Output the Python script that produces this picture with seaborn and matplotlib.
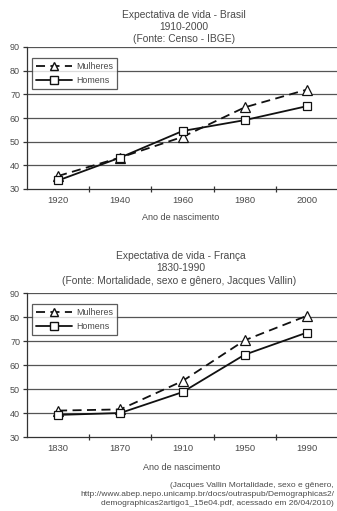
import matplotlib
matplotlib.use("Agg")
import matplotlib.pyplot as plt
from matplotlib.lines import Line2D
from matplotlib.ticker import FixedLocator
import seaborn as sns
import pandas as pd

# Life expectancy by year of birth
brasil_anos = ["1920", "1940", "1960", "1980", "2000"]
brasil_mulheres = [35.5, 43.3, 52.0, 64.5, 72.0]
brasil_homens = [33.6, 43.3, 54.5, 59.1, 65.0]

franca_anos = ["1830", "1870", "1910", "1950", "1990"]
franca_mulheres = [41.0, 41.5, 53.3, 70.3, 80.5]
franca_homens = [39.2, 40.0, 48.7, 64.3, 73.5]

y_ticks = [30, 40, 50, 60, 70, 80, 90]

sns.set_theme(style="white")
plt.rcParams["font.family"] = ["Liberation Sans", "DejaVu Sans"]

TXT = "#4a4a4a"
LN = "#111111"

W, H = 337, 511
fig = plt.figure(figsize=(W / 100, H / 100), dpi=100)
fig.patch.set_facecolor("white")


def px_axes(left, top, right, bottom):
    return fig.add_axes([left / W, 1 - bottom / H, (right - left) / W, (bottom - top) / H])


def draw_panel(ax, anos, mulheres, homens):
    df = pd.DataFrame({
        "x": list(range(len(anos))) * 2,
        "y": mulheres + homens,
        "sexo": ["Mulheres"] * len(anos) + ["Homens"] * len(anos),
    })
    sns.lineplot(data=df[df.sexo == "Mulheres"], x="x", y="y", ax=ax, color=LN,
                 linestyle=(0, (5, 3)), linewidth=1.3, marker="^", markersize=7,
                 markerfacecolor="white", markeredgecolor=LN, markeredgewidth=0.9,
                 legend=False, zorder=4)
    sns.lineplot(data=df[df.sexo == "Homens"], x="x", y="y", ax=ax, color=LN,
                 linestyle="-", linewidth=1.3, marker="s", markersize=6.3,
                 markerfacecolor="white", markeredgecolor=LN, markeredgewidth=0.9,
                 legend=False, zorder=5)
    ax.set_xlim(-0.5, len(anos) - 0.5)
    ax.set_ylim(30, 90)
    ax.set_yticks(y_ticks)
    ax.set_xticks(range(len(anos)))
    ax.set_xticklabels(anos)
    ax.xaxis.set_minor_locator(FixedLocator([i + 0.5 for i in range(len(anos))]))
    ax.tick_params(axis="x", which="major", length=0, labelsize=6.8, labelcolor=TXT, pad=5)
    ax.tick_params(axis="x", which="minor", length=4, width=0.9, direction="inout",
                   color="#333333", bottom=True)
    ax.tick_params(axis="y", which="major", length=3, width=0.9, direction="out",
                   color="#333333", labelsize=6.5, labelcolor=TXT, pad=2, left=True)
    for v in y_ticks[1:]:
        ax.axhline(v, color="#555555", linewidth=0.9, zorder=1)
    for s in ["right", "top"]:
        ax.spines[s].set_visible(False)
    for s in ["left", "bottom"]:
        ax.spines[s].set_color("#333333")
        ax.spines[s].set_linewidth(0.9)
    ax.set_xlabel("")
    ax.set_ylabel("")
    handles = [
        Line2D([], [], color=LN, linestyle=(0, (5, 3)), linewidth=1.3, marker="^",
               markersize=6, markerfacecolor="white", markeredgecolor=LN),
        Line2D([], [], color=LN, linestyle="-", linewidth=1.3, marker="s",
               markersize=5.5, markerfacecolor="white", markeredgecolor=LN),
    ]
    leg = ax.legend(handles, ["Mulheres", "Homens"], loc="upper left",
                    bbox_to_anchor=(0.016, 0.925), fontsize=6.4, frameon=True,
                    fancybox=False, handlelength=4.0, handletextpad=0.5,
                    borderpad=0.45, labelspacing=0.6, borderaxespad=0)
    leg.get_frame().set_edgecolor("#333333")
    leg.get_frame().set_linewidth(0.9)
    for t in leg.get_texts():
        t.set_color(TXT)
    leg.set_zorder(6)


ax1 = px_axes(27, 47, 338, 189)
draw_panel(ax1, brasil_anos, brasil_mulheres, brasil_homens)
ax2 = px_axes(27, 293, 338, 437)
draw_panel(ax2, franca_anos, franca_mulheres, franca_homens)

tkw = dict(ha="center", va="center", fontsize=7.4, color=TXT)
fig.text(184 / W, 1 - 15 / H, "Expectativa de vida - Brasil", **tkw)
fig.text(184 / W, 1 - 27 / H, "1910-2000", **tkw)
fig.text(184 / W, 1 - 39 / H, "(Fonte: Censo - IBGE)", **tkw)
fig.text(181 / W, 1 - 218 / H, "Ano de nascimento", ha="center", va="center",
         fontsize=6.5, color=TXT)

fig.text(181 / W, 1 - 256 / H, "Expectativa de vida - França", **tkw)
fig.text(181 / W, 1 - 268 / H, "1830-1990", **tkw)
fig.text(179 / W, 1 - 281 / H, "(Fonte: Mortalidade, sexo e gênero, Jacques Vallin)", **tkw)
fig.text(182 / W, 1 - 468 / H, "Ano de nascimento", ha="center", va="center",
         fontsize=6.5, color=TXT)

nkw = dict(ha="right", va="center", fontsize=6.0, color=TXT)
fig.text(334 / W, 1 - 485 / H, "(Jacques Vallin Mortalidade, sexo e gênero,", **nkw)
fig.text(334 / W, 1 - 494 / H, "http://www.abep.nepo.unicamp.br/docs/outraspub/Demographicas2/", **nkw)
fig.text(334 / W, 1 - 503 / H, "demographicas2artigo1_15e04.pdf, acessado em 26/04/2010)", **nkw)

fig.savefig("out.png", dpi=100, facecolor="white")
